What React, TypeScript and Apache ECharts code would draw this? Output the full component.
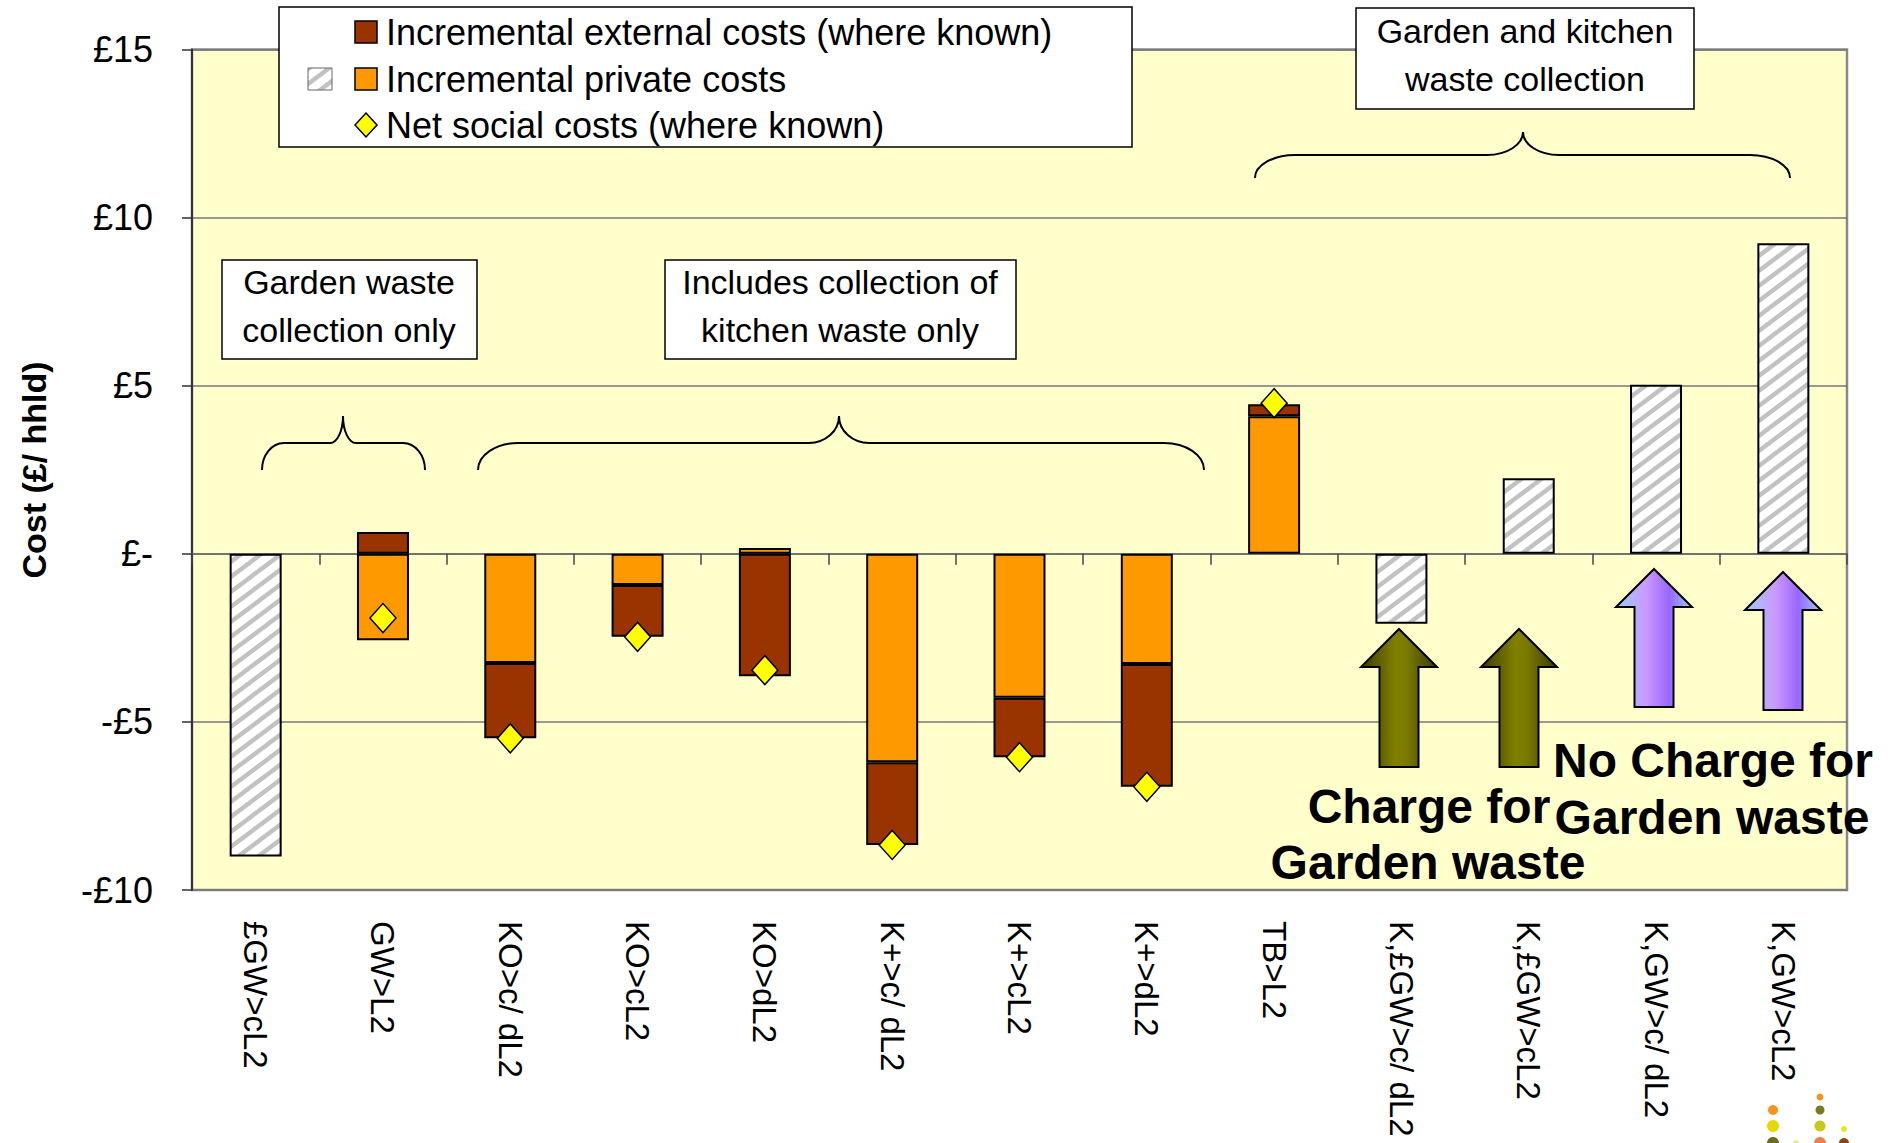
import React, { useEffect, useRef } from 'react';
import * as echarts from 'echarts';

const categories = [
  '£GW>cL2', 'GW>L2', 'KO>c/ dL2', 'KO>cL2', 'KO>dL2', 'K+>c/ dL2', 'K+>cL2',
  'K+>dL2', 'TB>L2', 'K,£GW>c/ dL2', 'K,£GW>cL2', 'K,GW>c/ dL2', 'K,GW>cL2',
];
const hatchedCosts = [-9.0, null, null, null, null, null, null, null, null, -2.08, 2.25, 5.03, 9.24];
const privateCosts = [null, -2.57, -3.25, -0.93, 0.17, -6.2, -4.28, -3.28, 4.09, null, null, null, null];
const externalCosts = [null, 0.65, -2.24, -1.54, -3.64, -2.46, -1.77, -3.65, 0.36, null, null, null, null];
const netSocialCosts = [null, -1.91, -5.49, -2.47, -3.46, -8.66, -6.05, -6.93, 4.48, null, null, null, null];
const yTickValues = [-10, -5, 0, 5, 10, 15];
const yTickLabels = ['-£10', '-£5', '£-', '£5', '£10', '£15'];
const legendLabels = [
  'Incremental external costs (where known)',
  'Incremental private costs',
  'Net social costs (where known)',
];
const yAxisTitle = 'Cost (£/ hhld)';

const FONT = '"Liberation Sans", Arial, sans-serif';

function bracePath(x1: number, x2: number, xm: number, yTip: number, yH: number, yEnd: number, r: number, rt: number) {
  const k = 0.552;
  return [
    `M${x1},${yEnd}`,
    `C${x1},${yEnd - k * (yEnd - yH)} ${x1 + r * (1 - k)},${yH} ${x1 + r},${yH}`,
    `L${xm - rt},${yH}`,
    `C${xm - rt + k * rt},${yH} ${xm},${yTip + k * (yH - yTip)} ${xm},${yTip}`,
    `C${xm},${yTip + k * (yH - yTip)} ${xm + rt - k * rt},${yH} ${xm + rt},${yH}`,
    `L${x2 - r},${yH}`,
    `C${x2 - r + k * r},${yH} ${x2},${yEnd - k * (yEnd - yH)} ${x2},${yEnd}`,
  ].join(' ');
}

echarts.graphic.registerShape('braceA', echarts.graphic.extendPath(bracePath(262, 425, 343, 416, 443, 470, 22, 13), {}));
echarts.graphic.registerShape('braceB', echarts.graphic.extendPath(bracePath(478, 1204, 839, 416, 443, 470, 40, 30), {}));
echarts.graphic.registerShape('braceC', echarts.graphic.extendPath(bracePath(1255, 1790, 1523, 132, 155, 178, 40, 36), {}));

function makeHatch() {
  const w = 20;
  const h = 15;
  const c = document.createElement('canvas');
  c.width = w;
  c.height = h;
  const ctx = c.getContext('2d')!;
  ctx.fillStyle = '#ffffff';
  ctx.fillRect(0, 0, w, h);
  ctx.strokeStyle = '#c2c2c2';
  ctx.lineWidth = 4.5;
  ctx.beginPath();
  ctx.moveTo(-4, h + 3); ctx.lineTo(w + 4, -3);
  ctx.moveTo(-4, 3); ctx.lineTo(4, -3);
  ctx.moveTo(w - 4, h + 3); ctx.lineTo(w + 4, h - 3);
  ctx.stroke();
  return c;
}

function arrow(cx: number, tip: number, base: number, bottom: number, stops: any[]) {
  const hw = 38;
  const sw = 19.5;
  return {
    type: 'polygon',
    z: 100,
    shape: {
      points: [
        [cx, tip], [cx + hw, base], [cx + sw, base], [cx + sw, bottom],
        [cx - sw, bottom], [cx - sw, base], [cx - hw, base],
      ],
    },
    style: {
      fill: new echarts.graphic.LinearGradient(0, 0, 1, 0, stops),
      stroke: '#000',
      lineWidth: 2,
    },
  };
}

function txt(x: number, y: number, text: string, font: string, extra: any = {}) {
  return {
    type: 'text',
    z: 101,
    x,
    y,
    ...extra,
    style: {
      text,
      font,
      fill: '#000',
      align: 'center',
      verticalAlign: 'middle',
      textAlign: 'center',
      textVerticalAlign: 'middle',
      ...(extra.style || {}),
    },
  };
}

export default function App() {
  const ref = useRef<HTMLDivElement>(null);

  useEffect(() => {
    if (!ref.current) return;
    const chart = echarts.init(ref.current, null, { renderer: 'svg' });
    const hatch = makeHatch();
    const hatchFill: any = { image: hatch, repeat: 'repeat' };

    const olive = [
      { offset: 0, color: '#3a3a00' },
      { offset: 0.45, color: '#808000' },
      { offset: 0.6, color: '#7a7a00' },
      { offset: 1, color: '#3a3a00' },
    ];
    const purple = [
      { offset: 0, color: '#99ccff' },
      { offset: 0.4, color: '#cc99ff' },
      { offset: 0.7, color: '#9966ff' },
      { offset: 1, color: '#99ccff' },
    ];

    const boxStyle = { fill: '#ffffff', stroke: '#000', lineWidth: 1.5 };
    const annFont = `34px ${FONT}`;
    const legFont = `36px ${FONT}`;
    const bigFont = `bold 48px ${FONT}`;

    const graphic: any[] = [
      // legend
      { type: 'rect', z: 100, shape: { x: 279, y: 7, width: 853, height: 140 }, style: boxStyle },
      { type: 'rect', z: 101, shape: { x: 355, y: 21, width: 22, height: 22 }, style: { fill: '#993300', stroke: '#000', lineWidth: 1.5 } },
      { type: 'rect', z: 101, shape: { x: 355, y: 68, width: 22, height: 22 }, style: { fill: '#ff9900', stroke: '#000', lineWidth: 1.5 } },
      { type: 'rect', z: 101, shape: { x: 308, y: 68, width: 24, height: 22 }, style: { fill: hatchFill, stroke: '#666', lineWidth: 1 } },
      {
        type: 'polygon', z: 101,
        shape: { points: [[366, 113], [377, 125], [366, 137], [355, 125]] },
        style: { fill: '#ffff00', stroke: '#000', lineWidth: 1.5 },
      },
      txt(386, 32, legendLabels[0], legFont, { style: { align: 'left', textAlign: 'left' } }),
      txt(386, 79, legendLabels[1], legFont, { style: { align: 'left', textAlign: 'left' } }),
      txt(386, 125, legendLabels[2], legFont, { style: { align: 'left', textAlign: 'left' } }),
      // annotation boxes
      { type: 'rect', z: 100, shape: { x: 222, y: 260, width: 255, height: 99 }, style: boxStyle },
      txt(349, 282, 'Garden waste', annFont),
      txt(349, 330, 'collection only', annFont),
      { type: 'rect', z: 100, shape: { x: 665, y: 260, width: 351, height: 99 }, style: boxStyle },
      txt(840, 282, 'Includes collection of', annFont),
      txt(840, 330, 'kitchen waste only', annFont),
      { type: 'rect', z: 100, shape: { x: 1356, y: 8, width: 338, height: 101 }, style: boxStyle },
      txt(1525, 31, 'Garden and kitchen', annFont),
      txt(1525, 79, 'waste collection', annFont),
      // braces
      { type: 'braceA', z: 100, style: { fill: 'none', stroke: '#000', lineWidth: 2 } },
      { type: 'braceB', z: 100, style: { fill: 'none', stroke: '#000', lineWidth: 2 } },
      { type: 'braceC', z: 100, style: { fill: 'none', stroke: '#000', lineWidth: 2 } },
      // arrows
      arrow(1399, 629, 667, 767, olive),
      arrow(1519, 629, 667, 767, olive),
      arrow(1654, 569, 607, 707, purple),
      arrow(1783, 572, 610, 710, purple),
      // big labels
      txt(1429, 806, 'Charge for', bigFont),
      txt(1428, 862, 'Garden waste', bigFont),
      txt(1713, 760, 'No Charge for', bigFont),
      txt(1712, 817, 'Garden waste', bigFont),
      // y axis title
      txt(34, 470, yAxisTitle, `bold 34px ${FONT}`, { rotation: Math.PI / 2 }),
      // logo dots
      { type: 'circle', z: 100, shape: { cx: 1773, cy: 1110, r: 5 }, style: { fill: '#f7941d' } },
      { type: 'circle', z: 100, shape: { cx: 1773, cy: 1126, r: 6 }, style: { fill: '#e6d800' } },
      { type: 'circle', z: 100, shape: { cx: 1773, cy: 1143, r: 6 }, style: { fill: '#6b6b1a' } },
      { type: 'circle', z: 100, shape: { cx: 1796, cy: 1143, r: 3 }, style: { fill: '#f0e68c' } },
      { type: 'circle', z: 100, shape: { cx: 1820, cy: 1097, r: 3.5 }, style: { fill: '#f7941d' } },
      { type: 'circle', z: 100, shape: { cx: 1820, cy: 1110, r: 4.5 }, style: { fill: '#7a7a1f' } },
      { type: 'circle', z: 100, shape: { cx: 1820, cy: 1126, r: 5.5 }, style: { fill: '#c8c81a' } },
      { type: 'circle', z: 100, shape: { cx: 1820, cy: 1143, r: 6 }, style: { fill: '#f47c4a' } },
      { type: 'circle', z: 100, shape: { cx: 1844, cy: 1129, r: 3 }, style: { fill: '#e6e61a' } },
      { type: 'circle', z: 100, shape: { cx: 1844, cy: 1143, r: 5 }, style: { fill: '#8b4513' } },
    ];

    const barBase = {
      type: 'bar',
      stack: 'total',
      xAxisIndex: 0,
      barWidth: 52,
    };

    chart.setOption({
      animation: false,
      backgroundColor: '#ffffff',
      grid: {
        left: 192,
        right: 41,
        top: 49.5,
        bottom: 253,
        show: true,
        backgroundColor: '#ffffcc',
        borderColor: '#888888',
        borderWidth: 2.5,
      },
      xAxis: [
        {
          type: 'category',
          data: categories,
          position: 'top',
          axisLine: { onZero: true, lineStyle: { color: '#666666', width: 1.5 } },
          axisTick: { show: true, inside: true, length: 11, lineStyle: { color: '#444444', width: 1.5 } },
          axisLabel: { show: false },
          splitLine: { show: false },
        },
        {
          type: 'category',
          data: categories,
          position: 'bottom',
          axisLine: { show: false, onZero: false },
          axisTick: { show: false },
          axisLabel: {
            show: true,
            rotate: -90,
            margin: 31,
            interval: 0,
            color: '#000',
            fontSize: 33,
            fontFamily: FONT,
          },
        },
      ],
      yAxis: {
        type: 'value',
        min: -10,
        max: 15,
        interval: 5,
        axisLine: { show: true, lineStyle: { color: '#333333', width: 2 } },
        axisTick: { show: true, length: 10, lineStyle: { color: '#333333', width: 1.5 } },
        axisLabel: {
          margin: 39,
          color: '#000',
          fontSize: 36,
          fontFamily: FONT,
          formatter: (v: number) => {
            const i = yTickValues.indexOf(v);
            return i >= 0 ? yTickLabels[i] : '';
          },
        },
        splitLine: { show: true, lineStyle: { color: '#777777', width: 1.5 } },
      },
      series: [
        {
          ...barBase,
          name: 'hatched',
          data: hatchedCosts,
          itemStyle: { color: hatchFill, borderColor: '#000', borderWidth: 2 },
        },
        {
          ...barBase,
          name: legendLabels[1],
          data: privateCosts,
          itemStyle: { color: '#ff9900', borderColor: '#000', borderWidth: 2 },
        },
        {
          ...barBase,
          name: legendLabels[0],
          data: externalCosts,
          itemStyle: { color: '#993300', borderColor: '#000', borderWidth: 2 },
        },
        {
          type: 'scatter',
          name: legendLabels[2],
          xAxisIndex: 0,
          data: netSocialCosts,
          symbol: 'diamond',
          symbolSize: [26, 29],
          z: 5,
          itemStyle: { color: '#ffff00', borderColor: '#000', borderWidth: 1.5, opacity: 1 },
        },
      ],
      graphic,
    });

    return () => chart.dispose();
  }, []);

  return (
    <div
      ref={ref}
      style={{ position: 'fixed', left: 0, top: 0, width: '1888px', height: '1143px', background: '#fff' }}
    />
  );
}
